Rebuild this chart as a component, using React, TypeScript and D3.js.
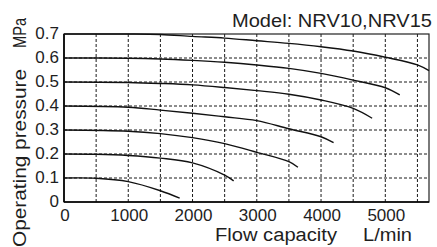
import * as d3 from 'd3';

// flow (L/min), pressure (MPa)
const curve07: [number, number][] = [[0, 0.7], [1000, 0.7], [1500, 0.698], [2000, 0.69], [2500, 0.683], [3000, 0.672], [3500, 0.661], [4000, 0.647], [4500, 0.629], [5000, 0.603], [5500, 0.571], [5680, 0.547]];
const curve06: [number, number][] = [[0, 0.6], [1000, 0.599], [1500, 0.596], [2000, 0.59], [2500, 0.582], [3000, 0.571], [3500, 0.557], [4000, 0.536], [4500, 0.508], [5000, 0.476], [5225, 0.446]];
const curve05: [number, number][] = [[0, 0.5], [1000, 0.498], [1500, 0.494], [2000, 0.488], [2500, 0.477], [3000, 0.464], [3500, 0.449], [4000, 0.425], [4500, 0.39], [4795, 0.349]];
const curve04: [number, number][] = [[0, 0.4], [1000, 0.395], [1500, 0.383], [2000, 0.37], [2500, 0.355], [3000, 0.339], [3500, 0.305], [4000, 0.272], [4195, 0.247]];
const curve03: [number, number][] = [[0, 0.3], [1000, 0.295], [1500, 0.285], [2000, 0.268], [2500, 0.243], [3000, 0.207], [3500, 0.168], [3640, 0.145]];
const curve02: [number, number][] = [[0, 0.2], [500, 0.199], [1000, 0.194], [1500, 0.183], [2000, 0.163], [2500, 0.112], [2640, 0.088]];
const curve01: [number, number][] = [[0, 0.1], [500, 0.099], [1000, 0.085], [1500, 0.047], [1800, 0.016]];

const curves = [curve07, curve06, curve05, curve04, curve03, curve02, curve01];

const xTicks = [0, 1000, 2000, 3000, 4000, 5000];
const xGrid = [500, 1000, 1500, 2000, 2500, 3000, 3500, 4000, 4500, 5000, 5500];
const yTicks = [0, 0.1, 0.2, 0.3, 0.4, 0.5, 0.6, 0.7];
const yGrid = [0.1, 0.2, 0.3, 0.4, 0.5, 0.6];

const width = 437;
const height = 247;
const margin = { top: 34, right: 8, bottom: 45, left: 64 };
const font = '"Liberation Sans", Arial, sans-serif';
const ink = '#1e1e1e';

export default function App() {
  const x = d3.scaleLinear().domain([0, 5680]).range([margin.left, width - margin.right]);
  const y = d3.scaleLinear().domain([0, 0.7]).range([height - margin.bottom, margin.top]);

  const line = d3.line<[number, number]>()
    .x(d => x(d[0]))
    .y(d => y(d[1]))
    .curve(d3.curveCatmullRom.alpha(0.5));

  const x0 = x(0);
  const x1 = x(5680);
  const y0 = y(0);
  const y1 = y(0.7);

  return (
    <svg width={width} height={height} style={{ position: 'absolute', left: 0, top: 0, background: '#fff' }} fontFamily={font}>
      {/* dashed grid */}
      {xGrid.map(v => (
        <line key={'gx' + v} x1={x(v)} x2={x(v)} y1={y1} y2={y0} stroke="#000" strokeWidth={0.9} strokeDasharray="3 2" />
      ))}
      {yGrid.map(v => (
        <line key={'gy' + v} x1={x0} x2={x1} y1={y(v)} y2={y(v)} stroke="#000" strokeWidth={0.9} strokeDasharray="3 2" />
      ))}

      {/* frame */}
      <rect x={x0} y={y1} width={x1 - x0} height={y0 - y1} fill="none" stroke="#222" strokeWidth={1.2} />
      <line x1={x0} x2={x0} y1={y1} y2={y0} stroke="#000" strokeWidth={1.6} />
      <line x1={x0} x2={x1} y1={y0} y2={y0} stroke="#000" strokeWidth={1.6} />

      {curves.map((c, i) => (
        <path key={'c' + i} d={line(c)!} fill="none" stroke="#111" strokeWidth={1.4} />
      ))}

      {yTicks.map(v => (
        <text key={'ty' + v} x={x0 - 5} y={y(v) + 1} textAnchor="end" dominantBaseline="middle" fontSize={17} fill={ink}>
          {v === 0 ? '0' : v.toFixed(1)}
        </text>
      ))}
      {xTicks.map(v => (
        <text key={'tx' + v} x={x(v) + 1} y={221} textAnchor="middle" fontSize={17} fill={ink}>
          {v}
        </text>
      ))}

      <text x={432} y={27} textAnchor="end" fontSize={18} fill={ink} textLength={200} lengthAdjust="spacingAndGlyphs">
        Model: NRV10,NRV15
      </text>
      <text x={215} y={241} fontSize={18} fill={ink} textLength={122} lengthAdjust="spacingAndGlyphs">
        Flow capacity
      </text>
      <text x={363} y={241} fontSize={18} fill={ink} textLength={49} lengthAdjust="spacingAndGlyphs">
        L/min
      </text>

      <g transform="translate(26,247) rotate(-90)">
        <text x={0} y={0} fontSize={18} fill={ink} textLength={178} lengthAdjust="spacingAndGlyphs">
          Operating pressure
        </text>
        <text x={199} y={0} fontSize={18} fill={ink} textLength={30} lengthAdjust="spacingAndGlyphs">
          MPa
        </text>
      </g>
    </svg>
  );
}
